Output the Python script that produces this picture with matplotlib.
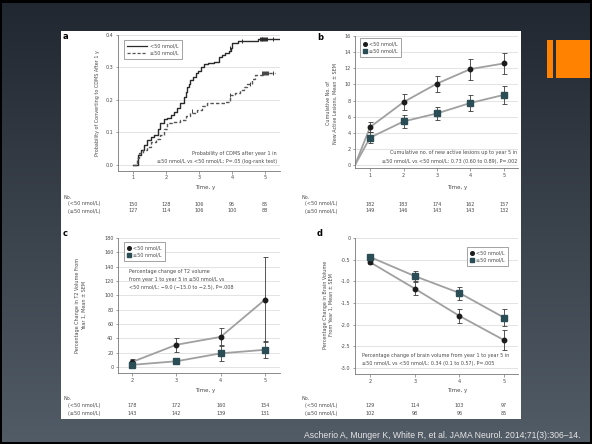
import numpy as np
import matplotlib
matplotlib.use("Agg")
import matplotlib.pyplot as plt
from matplotlib.lines import Line2D
from matplotlib.patches import Rectangle
import matplotlib.transforms as mtransforms

W, H = 592, 444

# ---------------- data ----------------
# Panel a: Kaplan-Meier curves
km_lt_t = [1.0, 1.17, 1.25, 1.35, 1.43, 1.55, 1.63, 1.75, 1.83, 1.95, 2.03, 2.15, 2.24, 2.35, 2.44,
           2.54, 2.6, 2.64, 2.7, 2.74, 2.82, 2.9, 2.98, 3.05, 3.15, 3.26, 3.46, 3.6, 3.7, 3.8, 3.9,
           3.97, 4.0, 4.17, 4.8, 5.45]
km_lt_p = [0.0, 0.03, 0.045, 0.06, 0.077, 0.085, 0.092, 0.11, 0.128, 0.14, 0.144, 0.155, 0.164, 0.175,
           0.19, 0.21, 0.225, 0.24, 0.25, 0.26, 0.27, 0.282, 0.29, 0.30, 0.31, 0.315, 0.318, 0.333,
           0.338, 0.344, 0.35, 0.36, 0.374, 0.38, 0.388, 0.388]
km_ge_t = [1.0, 1.12, 1.2, 1.3, 1.42, 1.55, 1.7, 1.83, 1.95, 2.03, 2.2, 2.43, 2.6, 2.73, 2.93, 3.1,
           3.24, 3.5, 3.79, 3.94, 4.1, 4.24, 4.35, 4.45, 4.6, 4.7, 4.95, 5.3]
km_ge_p = [0.0, 0.02, 0.035, 0.045, 0.056, 0.07, 0.08, 0.092, 0.11, 0.128, 0.132, 0.138, 0.15, 0.159,
           0.17, 0.18, 0.19, 0.192, 0.195, 0.215, 0.22, 0.23, 0.24, 0.25, 0.265, 0.277, 0.282, 0.282]
cens_lt_t = [3.95, 4.3, 4.85, 4.88, 4.9, 4.92, 4.95, 4.97, 5.0, 5.02, 5.05, 5.25]
cens_lt_p = [0.36, 0.38, 0.388, 0.388, 0.388, 0.388, 0.388, 0.388, 0.388, 0.388, 0.388, 0.388]
cens_ge_t = [2.8, 3.95, 4.55, 4.9, 4.93, 4.96, 4.99, 5.02, 5.05, 5.08, 5.25]
cens_ge_p = [0.165, 0.215, 0.25, 0.282, 0.282, 0.282, 0.282, 0.282, 0.282, 0.282, 0.282]
a_ticks_x = [1, 2, 3, 4, 5]
a_ticks_y = [0.0, 0.1, 0.2, 0.3, 0.4]
a_n_lt = ["150", "128", "106", "95", "85"]
a_n_ge = ["127", "114", "106", "100", "88"]

# Panel b: cumulative new active lesions
b_t = [1, 2, 3, 4, 5]
b_lt = [4.7, 7.8, 10.1, 11.9, 12.6]
b_lt_err = [0.6, 0.95, 1.0, 1.3, 1.35]
b_ge = [3.4, 5.4, 6.4, 7.7, 8.7]
b_ge_err = [0.7, 0.8, 0.85, 0.95, 1.1]
b_start_t, b_start_v = 0.55, 0.0
b_ticks_y = [0, 2, 4, 6, 8, 10, 12, 14, 16]
b_n_lt = ["182", "183", "174", "162", "157"]
b_n_ge = ["149", "146", "143", "143", "132"]

# Panel c: T2 volume change
c_t = [2, 3, 4, 5]
c_lt = [7, 31, 42, 94]
c_lt_err = [4, 10, 12, 59]
c_ge = [3, 8, 19, 24]
c_ge_err = [3, 4, 10, 12]
c_ticks_y = [0, 20, 40, 60, 80, 100, 120, 140, 160, 180]
c_n_lt = ["178", "172", "160", "154"]
c_n_ge = ["143", "142", "139", "131"]

# Panel d: brain volume change
d_t = [2, 3, 4, 5]
d_lt = [-0.56, -1.17, -1.80, -2.36]
d_lt_err = [0.05, 0.15, 0.17, 0.23]
d_ge = [-0.44, -0.88, -1.27, -1.84]
d_ge_err = [0.05, 0.12, 0.15, 0.19]
d_ticks_y = [0.0, -0.5, -1.0, -1.5, -2.0, -2.5, -3.0]
d_tick_labels = ["0", "-0.5", "-1.0", "-1.5", "-2.0", "-2.5", "-3.0"]
d_n_lt = ["129", "114", "103", "97"]
d_n_ge = ["102", "98", "96", "85"]

lbl_lt = "<50 nmol/L"
lbl_ge = "≥50 nmol/L"
citation = "Ascherio A, Munger K, White R, et al. JAMA Neurol. 2014;71(3):306–14."

# ---------------- styles ----------------
TXT = "#4a4a4a"
GRID = "#dedede"
SPINE = "#777777"
FS = 3.5
C_LT = "#1c1c1c"
C_GE = "#2b4d55"
LINEC = "#a0a0a0"

fig = plt.figure(figsize=(W / 100, H / 100), dpi=100)


def rect(l, t, r, b):
    return [l / W, 1 - b / H, (r - l) / W, (b - t) / H]


def fx(x):
    return x / W


def fy(y):
    return 1 - y / H


# background gradient
bg = fig.add_axes([0, 0, 1, 1], zorder=-10)
grad = np.linspace(0, 1, 256).reshape(-1, 1)
top = np.array([0x21, 0x27, 0x30]) / 255
bot = np.array([0x52, 0x5c, 0x66]) / 255
img = top[None, None, :] * (1 - grad[:, :, None]) + bot[None, None, :] * grad[:, :, None]
bg.imshow(img, aspect="auto", extent=[0, 1, 0, 1], origin="upper")
bg.set_xlim(0, 1)
bg.set_ylim(0, 1)
bg.axis("off")
# black border
for (x0, y0, w0, h0) in [(0, 0, 592, 3), (0, 0, 2, 444), (590, 0, 2, 444), (0, 442, 592, 2)]:
    bg.add_patch(Rectangle((x0 / W, 1 - (y0 + h0) / H), w0 / W, h0 / H, color="black", lw=0))
# white panel
bg.add_patch(Rectangle((61 / W, 1 - 419 / H), 460 / W, 388 / H, color="white", lw=0))
# orange decoration
bg.add_patch(Rectangle((547 / W, 1 - 78 / H), 6 / W, 38 / H, color="#ff8200", lw=0))
bg.add_patch(Rectangle((556 / W, 1 - 78 / H), 34 / W, 38 / H, color="#ff8200", lw=0))

fig.text(fx(580), fy(435), citation, ha="right", va="center", fontsize=6.2,
         color="#e6e6e6", family="Liberation Sans")


def style(ax, yticks, xticks, ylabels=None):
    for s in ["top", "right"]:
        ax.spines[s].set_visible(False)
    for s in ["left", "bottom"]:
        ax.spines[s].set_color(SPINE)
        ax.spines[s].set_linewidth(0.6)
    ax.set_yticks(yticks)
    if ylabels is not None:
        ax.set_yticklabels(ylabels)
    ax.set_xticks(xticks)
    ax.tick_params(labelsize=FS, colors=SPINE, labelcolor=TXT, length=1.8, width=0.5, pad=1.5)
    ax.grid(axis="y", color=GRID, lw=0.6)
    ax.set_axisbelow(True)


def table(ax, xs, n_lt, n_ge, y_no, y1, y2, xl):
    tr = mtransforms.blended_transform_factory(ax.transData, fig.transFigure)
    fig.text(fx(xl), fy(y_no), "No.", fontsize=FS, color=TXT, va="center")
    fig.text(fx(xl + 4), fy(y1), "(" + lbl_lt + ")", fontsize=FS, color=TXT, va="center")
    fig.text(fx(xl + 4), fy(y2), "(" + lbl_ge + ")", fontsize=FS, color=TXT, va="center")
    for x, a, b in zip(xs, n_lt, n_ge):
        ax.text(x, fy(y1), a, transform=tr, ha="center", va="center", fontsize=FS, color=TXT)
        ax.text(x, fy(y2), b, transform=tr, ha="center", va="center", fontsize=FS, color=TXT)


def marker_legend(ax, l, t, loc="upper left"):
    h = [Line2D([], [], ls="none", marker="o", ms=2.6, color=C_LT),
         Line2D([], [], ls="none", marker="s", ms=3.0, color=C_GE)]
    leg = ax.legend(h, [lbl_lt, lbl_ge], loc=loc, bbox_to_anchor=(fx(l), fy(t)),
                    bbox_transform=fig.transFigure, fontsize=FS, frameon=True, fancybox=False,
                    edgecolor="#777777", handlelength=0.8, handletextpad=0.4, borderpad=0.7,
                    labelspacing=0.5, borderaxespad=0)
    leg.get_frame().set_linewidth(0.6)
    for t_ in leg.get_texts():
        t_.set_color(TXT)


def err_series(ax, t, v, e, color, marker, ms, t0=None, v0=None):
    lt = ([t0] if t0 is not None else []) + list(t)
    lv = ([v0] if v0 is not None else []) + list(v)
    ax.plot(lt, lv, color=LINEC, lw=1.3, zorder=2)
    ax.errorbar(t, v, yerr=e, fmt=marker, ms=ms, color=color, ecolor="#3a3a3a",
                elinewidth=0.6, capsize=1.8, capthick=0.6, zorder=3)


# ---------------- panel a ----------------
axa = fig.add_axes(rect(118, 35, 280, 170.7))
axa.step(km_lt_t, km_lt_p, where="post", color="#2a2a2a", lw=1.0)
axa.step(km_ge_t, km_ge_p, where="post", color="#555555", lw=1.0, ls=(0, (2.5, 1.5)))
axa.plot(cens_lt_t, cens_lt_p, ls="none", marker="|", ms=2.4, mew=0.7, color="#2a2a2a")
axa.plot(cens_ge_t, cens_ge_p, ls="none", marker="|", ms=2.4, mew=0.7, color="#444444")
axa.set_xlim(0.556, 5.45)
axa.set_ylim(-0.018, 0.4)
style(axa, a_ticks_y, a_ticks_x, ["0.0", "0.1", "0.2", "0.3", "0.4"])
hl = [Line2D([], [], color="#2a2a2a", lw=0.9), Line2D([], [], color="#555555", lw=0.9, ls=(0, (2.5, 1.5)))]
lega = axa.legend(hl, [lbl_lt, lbl_ge], loc="upper left", bbox_to_anchor=(fx(124), fy(40)),
                  bbox_transform=fig.transFigure, fontsize=FS, frameon=True, fancybox=False,
                  edgecolor="#777777", handlelength=4.0, handletextpad=0.6, borderpad=0.7,
                  labelspacing=0.5, borderaxespad=0)
lega.get_frame().set_linewidth(0.6)
for t_ in lega.get_texts():
    t_.set_color(TXT)
fig.text(fx(277), fy(153), "Probability of CDMS after year 1 in", ha="right", va="center", fontsize=FS, color=TXT)
fig.text(fx(277), fy(161), "≥50 nmol/L vs <50 nmol/L; P=.05 (log-rank test)", ha="right", va="center",
         fontsize=FS, color=TXT)
fig.text(fx(97), fy(103), "Probability of Converting to CDMS After 1 y", rotation=90, ha="center",
         va="center", fontsize=FS, color=TXT)
fig.text(fx(205), fy(187), "Time, y", ha="center", va="center", fontsize=FS + 0.5, color=TXT)
fig.text(fx(63), fy(36), "a", ha="left", va="center", fontsize=6, weight="bold", color="black")
table(axa, a_ticks_x, a_n_lt, a_n_ge, 197, 204, 211, 64)

# ---------------- panel b ----------------
axb = fig.add_axes(rect(355, 36, 518, 168))
err_series(axb, b_t, b_lt, b_lt_err, C_LT, "o", 3.2, b_start_t, b_start_v)
err_series(axb, b_t, b_ge, b_ge_err, C_GE, "s", 3.7, b_start_t, b_start_v)
axb.set_xlim(0.55, 5.42)
axb.set_ylim(-0.37, 16)
style(axb, b_ticks_y, b_t)
marker_legend(axb, 360, 38)
fig.text(fx(517), fy(152), "Cumulative no. of new active lesions up to year 5 in", ha="right", va="center",
         fontsize=FS, color=TXT)
fig.text(fx(517), fy(161), "≥50 nmol/L vs <50 nmol/L: 0.73 (0.60 to 0.89), P=.002", ha="right",
         va="center", fontsize=FS, color=TXT)
fig.text(fx(329), fy(103), "Cumulative No. of", rotation=90, ha="center", va="center", fontsize=FS, color=TXT)
fig.text(fx(335), fy(103), "New Active Lesions, Mean ± SEM", rotation=90, ha="center", va="center",
         fontsize=FS, color=TXT)
fig.text(fx(457), fy(187), "Time, y", ha="center", va="center", fontsize=FS + 0.5, color=TXT)
fig.text(fx(317), fy(38), "b", ha="left", va="center", fontsize=6, weight="bold", color="black")
table(axb, b_t, b_n_lt, b_n_ge, 197, 204, 211, 301)

# ---------------- panel c ----------------
axc = fig.add_axes(rect(118, 238, 280, 373))
err_series(axc, c_t, c_lt, c_lt_err, C_LT, "o", 3.2)
err_series(axc, c_t, c_ge, c_ge_err, C_GE, "s", 3.7)
axc.set_xlim(1.68, 5.34)
axc.set_ylim(-8.4, 180)
style(axc, c_ticks_y, c_t)
marker_legend(axc, 124, 242)
for i, s in enumerate(["Percentage change of T2 volume", "from year 1 to year 5 in ≥50 nmol/L vs",
                       "<50 nmol/L: −9.0 (−15.0 to −2.5), P=.008"]):
    fig.text(fx(129), fy(272 + 7.5 * i), s, ha="left", va="center", fontsize=FS, color=TXT)
fig.text(fx(78), fy(305), "Percentage Change in T2 Volume From", rotation=90, ha="center", va="center",
         fontsize=FS, color=TXT)
fig.text(fx(84), fy(305), "Year 1, Mean ± SEM", rotation=90, ha="center", va="center", fontsize=FS, color=TXT)
fig.text(fx(205), fy(390), "Time, y", ha="center", va="center", fontsize=FS + 0.5, color=TXT)
fig.text(fx(63), fy(234), "c", ha="left", va="center", fontsize=6, weight="bold", color="black")
table(axc, c_t, c_n_lt, c_n_ge, 398, 405, 413, 64)

# ---------------- panel d ----------------
axd = fig.add_axes(rect(355, 238, 518, 374))
err_series(axd, d_t, d_lt, d_lt_err, C_LT, "o", 3.2)
err_series(axd, d_t, d_ge, d_ge_err, C_GE, "s", 3.7)
axd.set_xlim(1.66, 5.31)
axd.set_ylim(-3.14, 0)
style(axd, d_ticks_y, d_t, d_tick_labels)
marker_legend(axd, 508, 247, loc="upper right")
fig.text(fx(362), fy(355), "Percentage change of brain volume from year 1 to year 5 in", ha="left",
         va="center", fontsize=FS, color=TXT)
fig.text(fx(362), fy(363), "≥50 nmol/L vs <50 nmol/L: 0.34 (0.1 to 0.57), P=.005", ha="left",
         va="center", fontsize=FS, color=TXT)
fig.text(fx(325), fy(305), "Percentage Change in Brain Volume", rotation=90, ha="center", va="center",
         fontsize=FS, color=TXT)
fig.text(fx(331), fy(305), "From Year 1, Mean ± SEM", rotation=90, ha="center", va="center",
         fontsize=FS, color=TXT)
fig.text(fx(457), fy(390), "Time, y", ha="center", va="center", fontsize=FS + 0.5, color=TXT)
fig.text(fx(317), fy(234), "d", ha="left", va="center", fontsize=6, weight="bold", color="black")
table(axd, d_t, d_n_lt, d_n_ge, 398, 405, 413, 301)

fig.savefig("out.png", dpi=100)
